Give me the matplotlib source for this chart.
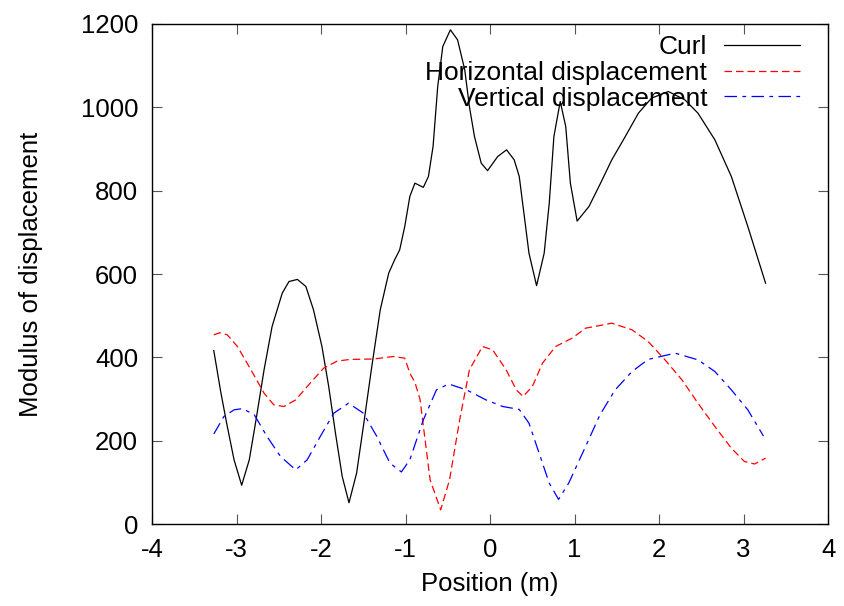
import matplotlib
matplotlib.use("Agg")
import matplotlib.pyplot as plt

plt.rcParams['font.family'] = ['Liberation Sans', 'DejaVu Sans']

curl_x = [-3.27, -3.185, -3.11, -3.03, -2.94, -2.85, -2.77, -2.675, -2.58, -2.46, -2.38,
          -2.28, -2.18, -2.09, -1.99, -1.91, -1.83, -1.75, -1.67, -1.58, -1.50, -1.40,
          -1.30, -1.20, -1.13, -1.07, -1.01, -0.95, -0.89, -0.79, -0.73, -0.675, -0.62,
          -0.56, -0.47, -0.385, -0.30, -0.245, -0.185, -0.105, -0.03, 0.09, 0.195, 0.285,
          0.345, 0.40, 0.46, 0.55, 0.64, 0.70, 0.755, 0.83, 0.895, 0.95, 1.03, 1.17,
          1.30, 1.44, 1.60, 1.755, 1.91, 2.11, 2.305, 2.46, 2.66, 2.855, 3.05, 3.26]
curl_y = [416, 314, 234, 154, 93, 154, 250, 370, 474, 554, 582,
          587, 570, 514, 426, 330, 218, 114, 51, 122, 234, 378,
          514, 602, 634, 658, 714, 786, 818, 808, 834, 906, 1050,
          1146, 1186, 1162, 1090, 1002, 930, 866, 848, 882, 898, 874,
          834, 746, 650, 572, 650, 770, 930, 1014, 954, 818, 727, 762,
          815, 874, 930, 986, 1022, 1038, 1018, 986, 922, 834, 714, 578]

horiz_x = [-3.27, -3.20, -3.11, -2.99, -2.83, -2.675, -2.56, -2.44, -2.30, -2.13, -1.97,
           -1.81, -1.655, -1.38, -1.145, -1.01, -0.95, -0.89, -0.83, -0.71, -0.585, -0.48,
           -0.36, -0.245, -0.09, 0.03, 0.19, 0.31, 0.39, 0.50, 0.62, 0.775, 0.97, 1.13,
           1.29, 1.44, 1.68, 1.87, 2.07, 2.27, 2.46, 2.66, 2.855, 3.01, 3.13, 3.26]
horiz_y = [454, 459, 454, 426, 370, 314, 286, 282, 298, 338, 374,
           391, 395, 396, 402, 398, 362, 340, 300, 106, 34, 106,
           250, 370, 426, 418, 370, 322, 306, 330, 386, 426, 446, 470,
           476, 482, 466, 438, 394, 346, 290, 234, 182, 150, 144, 158]

vert_x = [-3.27, -3.15, -3.03, -2.93, -2.79, -2.64, -2.48, -2.30, -2.165, -2.01, -1.85,
          -1.675, -1.50, -1.34, -1.185, -1.05, -0.95, -0.79, -0.635, -0.49, -0.28, -0.05,
          0.15, 0.345, 0.46, 0.58, 0.70, 0.81, 0.93, 1.13, 1.30, 1.48, 1.68, 1.87,
          2.19, 2.46, 2.66, 2.855, 3.05, 3.235]
vert_y = [216, 258, 274, 277, 262, 210, 162, 130, 154, 210, 266,
          290, 266, 210, 146, 125, 154, 250, 322, 336, 322, 298,
          282, 275, 242, 170, 98, 59, 98, 186, 262, 322, 366, 395,
          410, 394, 366, 322, 274, 211]

x_ticks = [-4, -3, -2, -1, 0, 1, 2, 3, 4]
y_ticks = [0, 200, 400, 600, 800, 1000, 1200]

fs = 18.5
fig = plt.figure(figsize=(8.45, 6.06), dpi=100)
ax = fig.add_axes([0.18, 0.1353, 0.80, 0.8251])

lw = 0.9
ax.plot(curl_x, curl_y, color='black', lw=lw, label='Curl')
ax.plot(horiz_x, horiz_y, color='red', lw=lw, dashes=(6, 3.2), label='Horizontal displacement')
ax.plot(vert_x, vert_y, color='blue', lw=lw, dashes=(10, 4.3, 3, 4.3), label='Vertical displacement')

ax.set_xlim(-4, 4)
ax.set_ylim(0, 1200)
ax.set_xticks(x_ticks)
ax.set_yticks(y_ticks)
ax.set_xticklabels([str(t) for t in x_ticks])
ax.tick_params(direction='in', length=7, width=0.8, top=True, right=True,
               labelsize=fs, pad=10, color='#555555')
for s in ax.spines.values():
    s.set_linewidth(1.0)
ax.set_xlabel('Position (m)', fontsize=fs, labelpad=7)
ax.set_ylabel('Modulus of displacement', fontsize=fs, labelpad=27)

leg = ax.legend(loc='upper right', frameon=False, markerfirst=False, fontsize=19,
                handlelength=2.9, handletextpad=0.62, labelspacing=0.07,
                borderpad=0, borderaxespad=0, bbox_to_anchor=(0.9586, 0.978))

fig.savefig('out.png', dpi=100)
